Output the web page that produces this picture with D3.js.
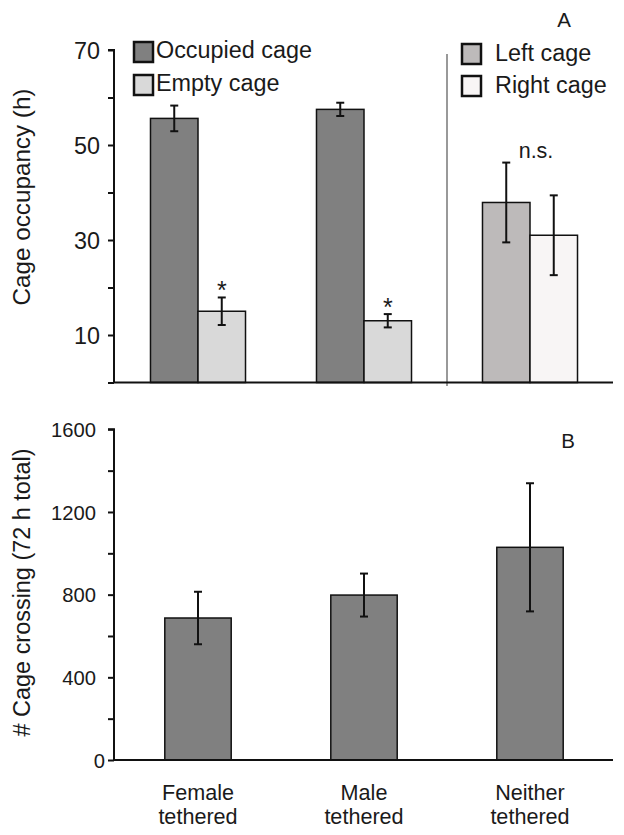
<!DOCTYPE html>
<html><head><meta charset="utf-8">
<script src="https://cdn.jsdelivr.net/npm/d3@7"></script>
<style>
html,body{margin:0;padding:0;background:#fff;}
text{font-family:"Liberation Sans",Arial,sans-serif;fill:#1a1a1a;}
</style></head>
<body>
<svg id="chart" width="624" height="835"></svg>
<script>
// ---- data ----
const groups = ["Female tethered", "Male tethered", "Neither tethered"];
const groupLines = [["Female", "tethered"], ["Male", "tethered"], ["Neither", "tethered"]];
// Panel A: first bar = occupied (tethered groups) / left cage (neither)
const occFirst = [55.6, 57.5, 37.9];
const occFirstErr = [2.7, 1.4, 8.4];
// second bar = empty (tethered groups) / right cage (neither)
const occSecond = [15.0, 13.0, 31.0];
const occSecondErr = [2.9, 1.4, 8.4];
const sigMarks = ["*", "*", ""];
const nsLabel = "n.s.";
const occTicks = [0, 10, 20, 30, 40, 50, 60, 70];
const occTickLabels = [10, 30, 50, 70];
// Panel B
const crossing = [687, 798, 1029];
const crossingErr = [127, 104, 310];
const crossTicks = [0, 200, 400, 600, 800, 1000, 1200, 1400, 1600];
const crossTickLabels = [0, 400, 800, 1200, 1600];
const legendLeft = ["Occupied cage", "Empty cage"];
const legendRight = ["Left cage", "Right cage"];
const colOcc = "#808080", colEmpty = "#d9d9d9", colLeftCage = "#bdbaba", colRightCage = "#f8f5f5";

const svg = d3.select("#chart");
const X0 = 114, X1 = 613;

// helper: font size so a text spans a target width
function fitSize(str, target) {
  const t = svg.append("text").attr("font-size", 20).text(str);
  const L = t.node().getComputedTextLength();
  t.remove();
  return 20 * target / L;
}
const fsLegend = fitSize("Occupied cage", 156);
const fsTitleA = fitSize("Cage occupancy (h)", 217);
const fsTitleB = fitSize("# Cage crossing (72 h total)", 288);
const fsCat = Math.min(21.6, fitSize("tethered", 84));
const fsTickA = fitSize("70", 26);
const fsTickB = fitSize("1600", 45);

// ---------- Panel A ----------
const xA = d3.scaleBand().domain(groups).range([115, 613]).paddingInner(0).paddingOuter(0);
const xAin = d3.scaleBand().domain([0, 1]).range([0, xA.bandwidth()]).paddingInner(0).paddingOuter(0.747);
const yA = d3.scaleLinear().domain([0, 70]).range([382.5, 50]);

const gA = svg.append("g");
gA.append("line").attr("x1", 447).attr("x2", 447).attr("y1", 54).attr("y2", 386)
  .attr("stroke", "#999").attr("stroke-width", 2);

const barsA = [];
groups.forEach((g, i) => {
  barsA.push({g, s: 0, v: occFirst[i], e: occFirstErr[i], fill: i < 2 ? colOcc : colLeftCage});
  barsA.push({g, s: 1, v: occSecond[i], e: occSecondErr[i], fill: i < 2 ? colEmpty : colRightCage, sig: sigMarks[i]});
});
gA.selectAll("rect.bar").data(barsA).join("rect")
  .attr("x", d => xA(d.g) + xAin(d.s))
  .attr("width", xAin.bandwidth())
  .attr("y", d => yA(d.v))
  .attr("height", d => yA(0) - yA(d.v))
  .attr("fill", d => d.fill).attr("stroke", "#111").attr("stroke-width", 1.5);

function errBars(g, data, xf, yf, cap) {
  data.forEach(d => {
    const cx = xf(d);
    const yt = yf(d.v + d.e), yb = yf(d.v - d.e);
    g.append("line").attr("x1", cx).attr("x2", cx).attr("y1", yt).attr("y2", yb).attr("stroke", "#111").attr("stroke-width", 2);
    g.append("line").attr("x1", cx - cap).attr("x2", cx + cap).attr("y1", yt).attr("y2", yt).attr("stroke", "#111").attr("stroke-width", 2);
    g.append("line").attr("x1", cx - cap).attr("x2", cx + cap).attr("y1", yb).attr("y2", yb).attr("stroke", "#111").attr("stroke-width", 2);
  });
}
errBars(gA, barsA, d => xA(d.g) + xAin(d.s) + xAin.bandwidth() / 2, yA, 4);

barsA.filter(d => d.sig).forEach(d => {
  gA.append("text").attr("x", xA(d.g) + xAin(d.s) + xAin.bandwidth() / 2)
    .attr("y", yA(d.v + d.e) + 1.5).attr("text-anchor", "middle")
    .attr("font-size", 25).text(d.sig);
});
gA.append("text").attr("x", 536).attr("y", 158)
  .attr("text-anchor", "middle").attr("font-size", 21.5).text(nsLabel);

// axes A
const axA = d3.axisLeft(yA).tickValues(occTicks).tickSize(6)
  .tickFormat(v => occTickLabels.includes(v) ? v : "");
const gax = svg.append("g").attr("transform", `translate(${X0},0)`).call(axA);
gax.select(".domain").attr("stroke", "#111").attr("stroke-width", 2).attr("d", `M-6,${yA(70)}H0V${yA(0)}`);
gax.selectAll(".tick line").attr("stroke", "#111").attr("stroke-width", 2);
gax.selectAll(".tick text").attr("font-size", fsTickA).attr("x", -14).attr("dy", "0.36em")
  .attr("font-family", "Liberation Sans, Arial, sans-serif").attr("fill", "#1a1a1a");
svg.append("line").attr("x1", X0).attr("x2", X1).attr("y1", yA(0)).attr("y2", yA(0)).attr("stroke", "#111").attr("stroke-width", 2);

svg.append("text").attr("transform", `translate(30,${197}) rotate(-90)`)
  .attr("text-anchor", "middle").attr("font-size", fsTitleA).text("Cage occupancy (h)");
svg.append("text").attr("x", 564).attr("y", 27).attr("text-anchor", "middle").attr("font-size", 20.5).text("A");

// legends
function legend(x, y0, labels, fills, tx, dy, by) {
  labels.forEach((l, i) => {
    const y = y0 + i * dy;
    svg.append("rect").attr("x", x).attr("y", y).attr("width", 19).attr("height", 20)
      .attr("fill", fills[i]).attr("stroke", "#111").attr("stroke-width", 2.5);
    svg.append("text").attr("x", tx).attr("y", y + by).attr("font-size", fsLegend).text(l);
  });
}
legend(134, 42, legendLeft, [colOcc, colEmpty], 156, 33, 16);
legend(462, 44, legendRight, [colLeftCage, colRightCage], 495, 32, 16.5);

// ---------- Panel B ----------
const xB = d3.scaleBand().domain(groups).range([115, 613]).paddingInner(0.6).paddingOuter(0.3);
const yB = d3.scaleLinear().domain([0, 1600]).range([760, 429.3]);
const barsB = groups.map((g, i) => ({g, v: crossing[i], e: crossingErr[i]}));
svg.selectAll("rect.barB").data(barsB).join("rect").attr("class", "barB")
  .attr("x", d => xB(d.g)).attr("width", xB.bandwidth())
  .attr("y", d => yB(d.v)).attr("height", d => yB(0) - yB(d.v))
  .attr("fill", colOcc).attr("stroke", "#111").attr("stroke-width", 1.5);
const gB = svg.append("g");
errBars(gB, barsB, d => xB(d.g) + xB.bandwidth() / 2, yB, 4);

const axB = d3.axisLeft(yB).tickValues(crossTicks).tickSize(6)
  .tickFormat(v => crossTickLabels.includes(v) ? v : "");
const gbx = svg.append("g").attr("transform", `translate(${X0},0)`).call(axB);
gbx.select(".domain").attr("stroke", "#111").attr("stroke-width", 2).attr("d", `M-6,${yB(1600)}H0V${yB(0)}`);
gbx.selectAll(".tick line").attr("stroke", "#111").attr("stroke-width", 2);
gbx.selectAll(".tick text").attr("font-size", fsTickB).attr("x", v => v === 0 ? -9 : -18).attr("dy", "0.36em")
  .attr("font-family", "Liberation Sans, Arial, sans-serif").attr("fill", "#1a1a1a");
svg.append("line").attr("x1", X0).attr("x2", X1).attr("y1", yB(0)).attr("y2", yB(0)).attr("stroke", "#111").attr("stroke-width", 2);

svg.append("text").attr("transform", `translate(30,${592.5}) rotate(-90)`)
  .attr("text-anchor", "middle").attr("font-size", fsTitleB).text("# Cage crossing (72 h total)");
svg.append("text").attr("x", 568).attr("y", 448).attr("text-anchor", "middle").attr("font-size", 20.5).text("B");

groups.forEach((g, i) => {
  const cx = xB(g) + xB.bandwidth() / 2;
  groupLines[i].forEach((ln, j) => svg.append("text").attr("x", cx).attr("y", 800 + j * 24.2)
    .attr("text-anchor", "middle").attr("font-size", fsCat).text(ln));
});
</script>
</body></html>
